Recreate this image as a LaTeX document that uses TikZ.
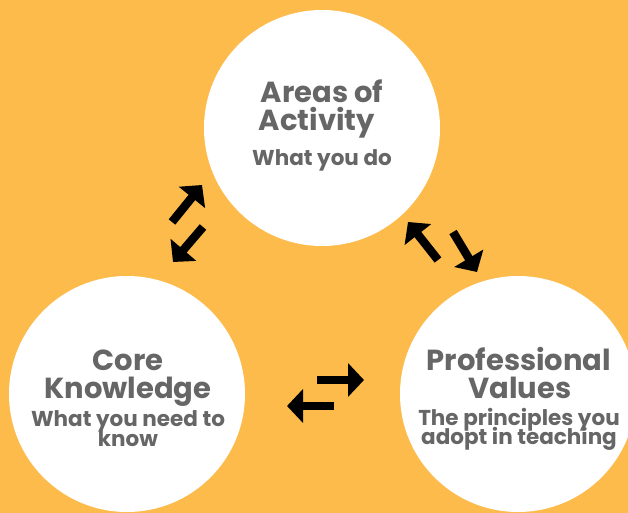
\documentclass[tikz,border=0pt]{standalone}
\usepackage{fontspec}
\setmainfont{Poppins}
\usetikzlibrary{arrows.meta}
\definecolor{bgorange}{HTML}{FDBB4B}
\definecolor{txtgray}{HTML}{666666}
\tikzset{
  bubble/.style={circle, fill=white, draw=none, minimum size=236pt, inner sep=0pt},
  title/.style={anchor=base, text=txtgray, inner sep=0pt, font=\fontsize{29}{29}\selectfont\bfseries},
  sub/.style={anchor=base, text=txtgray, inner sep=0pt, font=\fontsize{21.5}{21.5}\selectfont\bfseries},
  blockarrow/.style={line width=8.5pt, -{Triangle[length=16pt,width=33pt]}, black}
}
\begin{document}
\begin{tikzpicture}[x=1pt,y=-1pt]
\useasboundingbox (0,0) rectangle (628,513);
\clip (0,0) rectangle (628,513);
\fill[bgorange] (0,0) rectangle (628,513);
\node[bubble] (areas) at (322,128) {};
\node[bubble] (core) at (127,394) {};
\node[bubble] (prof) at (518,394) {};
% texts
\node[title] (a1) at (322,103) {Areas of};
\node[title] (a2) at (317,131) {Activity};
\node[sub] (a3) at (322,165) {What you do};
\node[title] (c1) at (128,370) {Core};
\node[title] (c2) at (128,398) {Knowledge};
\node[sub] (c3) at (128,426) {What you need to};
\node[sub] (c4) at (128,446) {know};
\node[title] (p1) at (519,370) {Professional};
\node[title] (p2) at (520,398) {Values};
\node[sub] (p3) at (519,425) {The principles you};
\node[sub] (p4) at (519,444) {adopt in teaching};
% arrow end points
\coordinate (u1s) at (172,222); \coordinate (u1e) at (202,185);
\coordinate (u2s) at (203,227); \coordinate (u2e) at (173,262);
\coordinate (r1s) at (438,260); \coordinate (r1e) at (408,222);
\coordinate (r2s) at (453,232); \coordinate (r2e) at (477,272);
\coordinate (b1s) at (317,380); \coordinate (b1e) at (364,380);
\coordinate (b2s) at (334,406); \coordinate (b2e) at (287,406);
\draw[blockarrow] (u1s) -- (u1e);
\draw[blockarrow] (u2s) -- (u2e);
\draw[blockarrow] (r1s) -- (r1e);
\draw[blockarrow] (r2s) -- (r2e);
\draw[blockarrow] (b1s) -- (b1e);
\draw[blockarrow] (b2s) -- (b2e);
\end{tikzpicture}
\end{document}
